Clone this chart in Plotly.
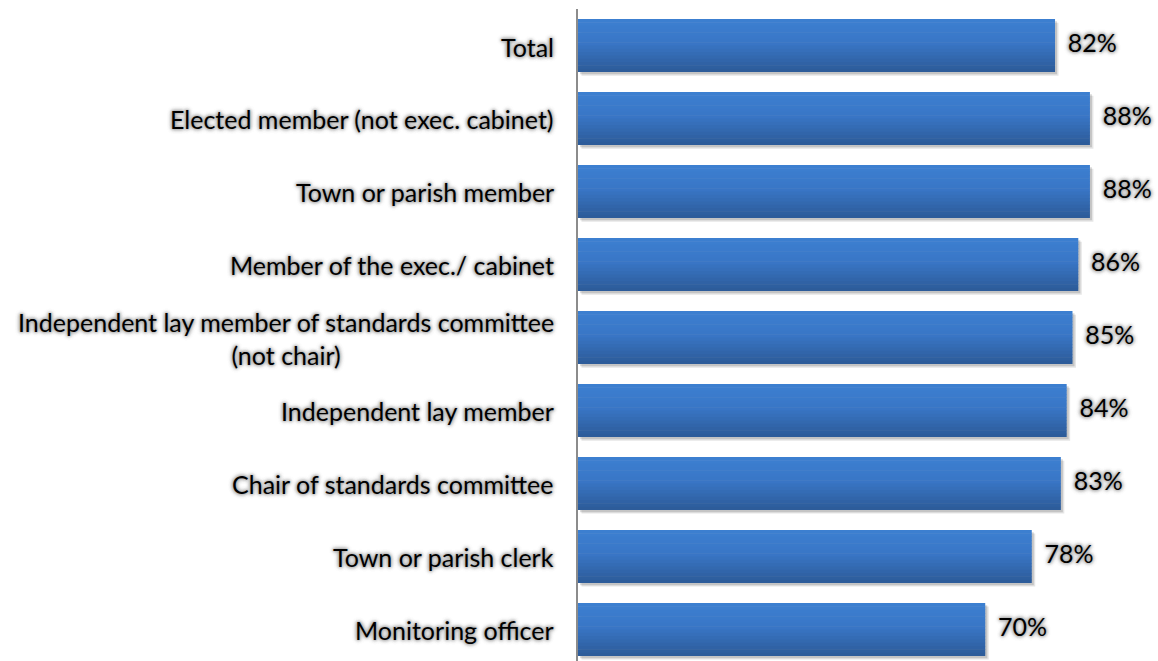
import plotly.graph_objects as go

# Survey responses by role (share agreeing, %)
categories = [
    "Total",
    "Elected member (not exec. cabinet)",
    "Town or parish member",
    "Member of the exec./ cabinet",
    "Independent lay member of standards committee<br>(not chair)",
    "Independent lay member",
    "Chair of standards committee",
    "Town or parish clerk",
    "Monitoring officer",
]
values = [82, 88, 88, 86, 85, 84, 83, 78, 70]
value_labels = [f"{v}%" for v in values]

FONT = "Lato"
FSIZE = 25
GLOW = ("0px 0px 3px #a8a8a8, 0px 0px 3px #a8a8a8, "
        "0px 0px 5px #b5b5b5, 0px 0px 5px #b5b5b5")

fig = go.Figure()

idx = list(range(len(categories)))
BAR_W = 53 / 73
TOP = -BAR_W / 2

# soft drop shadow behind each bar
for dx, dy, a in [(0.6, 0.05, 0.10), (0.35, 0.03, 0.14)]:
    fig.add_trace(go.Bar(
        y=idx, x=values, base=dx, orientation="h",
        width=BAR_W, offset=TOP + dy,
        marker=dict(color=f"rgba(0,0,0,{a})", line=dict(width=0)),
        hoverinfo="skip", showlegend=False,
    ))

# vertical gradient built from thin horizontal strips
top_c = (60, 127, 208)
mid_c = (57, 118, 198)
bot_c = (45, 92, 154)
N = 16
step = BAR_W / N
for k in range(N):
    t = k / (N - 1)
    if t < 0.45:
        u = t / 0.45
        c = [round(top_c[i] + (mid_c[i] - top_c[i]) * u) for i in range(3)]
    else:
        u = (t - 0.45) / 0.55
        c = [round(mid_c[i] + (bot_c[i] - mid_c[i]) * u) for i in range(3)]
    fig.add_trace(go.Bar(
        y=idx, x=values, orientation="h",
        width=step * 1.15 if k < N - 1 else step, offset=TOP + k * step,
        marker=dict(color=f"rgb({c[0]},{c[1]},{c[2]})", line=dict(width=0)),
        hoverinfo="skip", showlegend=False,
    ))

# value labels at the end of each bar
fig.add_trace(go.Scatter(
    y=idx, x=values, mode="text",
    text=["  " + s for s in value_labels],
    textposition="middle right",
    textfont=dict(family=FONT, size=FSIZE, color="#000", shadow=GLOW),
    hoverinfo="skip", showlegend=False, cliponaxis=False,
))

# category labels, centred lines, right-aligned block
for i, cat in enumerate(categories):
    fig.add_annotation(
        xref="paper", yref="y", x=0, y=i, xanchor="right", yanchor="middle",
        xshift=-22, yshift=-1, text=cat, showarrow=False, align="center",
        font=dict(family=FONT, size=FSIZE, color="#000", shadow=GLOW),
    )

fig.update_layout(
    width=1158, height=661,
    margin=dict(l=578, r=0, t=9, b=0),
    paper_bgcolor="white", plot_bgcolor="white",
    barmode="overlay", hovermode=False, showlegend=False,
    xaxis=dict(range=[0, 99.7], visible=False, fixedrange=True),
    yaxis=dict(range=[8.432, -0.5], showticklabels=False, showgrid=False,
               zeroline=False, showline=True, linecolor="#8c8c8c",
               linewidth=1.5, ticks="", fixedrange=True),
)

fig.write_html("out.html")
